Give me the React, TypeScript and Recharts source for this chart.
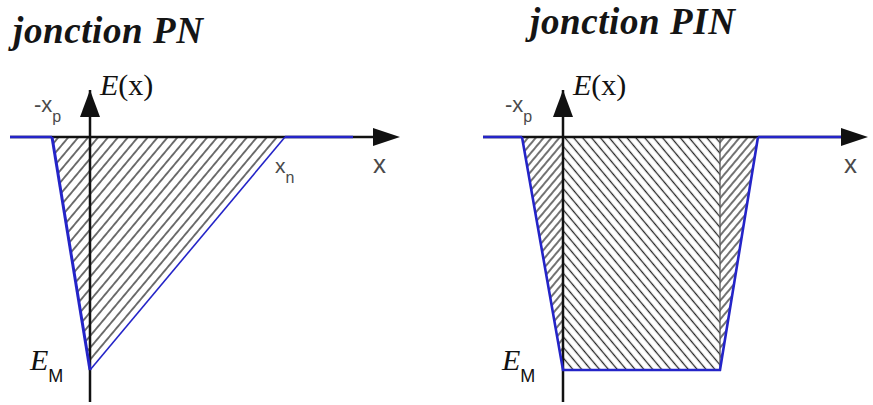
import React from 'react';
import { ComposedChart, Area, Line, XAxis, YAxis, ReferenceLine, ReferenceDot } from 'recharts';

// Field profiles E(x) in display units (x: position, e: field strength, EM = -23.3)
const pnProfile = [
  { x: -3.8, e: 0 },
  { x: 0, e: -23.3 },
  { x: 19.5, e: 0 },
];
const pinProfile = [
  { x: -4.1, e: 0 },
  { x: 0, e: -23.3 },
  { x: 15.7, e: -23.3 },
  { x: 19.5, e: 0 },
];

// Horizontal axis stretches (black line, blue outer parts)
const pnAxis = [{ x: -8, e: 0 }, { x: 29, e: 0 }];
const pnAxisBlueLeft = [{ x: -8, e: 0 }, { x: -3.8, e: 0 }];
const pnAxisBlueRight = [{ x: 19.5, e: 0 }, { x: 26.3, e: 0 }];
const pinAxis = [{ x: -8, e: 0 }, { x: 28.5, e: 0 }];
const pinAxisBlueLeft = [{ x: -8, e: 0 }, { x: -4.1, e: 0 }];
const pinAxisBlueRight = [{ x: 19.5, e: 0 }, { x: 28, e: 0 }];

// Intrinsic-layer boundary
const pinInnerEdge = [{ x: 15.7, e: 0 }, { x: 15.7, e: -23.3 }];

const titles = ['jonction PN', 'jonction PIN'];

const BLUE = '#2424c8';
const INK = '#111';
const GREY = '#4a4a4a';
const SERIF = '"Liberation Serif", "DejaVu Serif", serif';
const SANS = '"Liberation Sans", Arial, sans-serif';

const ArrowRight = (p: any) => (
  <polygon points={`${p.cx},${p.cy} ${p.cx - 27},${p.cy - 9} ${p.cx - 27},${p.cy + 9}`} fill={INK} />
);
const ArrowUp = (p: any) => (
  <polygon points={`${p.cx},${p.cy} ${p.cx - 10},${p.cy + 27} ${p.cx + 10},${p.cy + 27}`} fill={INK} />
);

const fieldLabel = (dx: number, dy: number) => (p: any) => (
  <text x={p.cx + dx} y={p.cy + dy} fill={INK} fontFamily={SERIF} fontSize={30}>
    <tspan fontStyle="italic">E</tspan>
    <tspan>(x)</tspan>
  </text>
);
const axisXLabel = (dx: number, dy: number) => (p: any) => (
  <text x={p.cx + dx} y={p.cy + dy} fill={GREY} fontFamily={SANS} fontSize={26}>x</text>
);
const xpLabel = (dx: number, dy: number) => (p: any) => (
  <text x={p.cx + dx} y={p.cy + dy} fill={GREY} fontFamily={SANS} fontSize={22}>
    -x<tspan fontSize={16} dy={10}>p</tspan>
  </text>
);
const xnLabel = (dx: number, dy: number) => (p: any) => (
  <text x={p.cx + dx} y={p.cy + dy} fill={GREY} fontFamily={SANS} fontSize={21}>
    x<tspan fontSize={16} dy={10}>n</tspan>
  </text>
);
const emLabel = (dx: number, dy: number) => (p: any) => (
  <text x={p.cx + dx} y={p.cy + dy} fill={INK} fontFamily={SERIF} fontSize={30}>
    <tspan fontStyle="italic">E</tspan>
    <tspan fontFamily={SANS} fontSize={18} dy={12}>M</tspan>
  </text>
);

const Hatch = ({ id, gap, angle }: { id: string; gap: number; angle: number }) => (
  <pattern id={id} patternUnits="userSpaceOnUse" width={gap} height={gap} patternTransform={`rotate(${angle})`}>
    <line x1={gap / 2} y1={0} x2={gap / 2} y2={gap} stroke="#262626" strokeWidth={1.3} />
  </pattern>
);

const yAxisDomain: [number, number] = [-26.5, 4.7];

function PnPanel() {
  return (
    <ComposedChart width={436} height={405} margin={{ top: 90, right: 36, bottom: 3, left: 10 }}>
      <defs>
        <Hatch id="pnHatch" gap={7.6} angle={40} />
      </defs>
      <XAxis type="number" dataKey="x" domain={[-8, 31]} hide allowDataOverflow />
      <YAxis type="number" domain={yAxisDomain} hide allowDataOverflow />
      <Area data={pnProfile} dataKey="e" type="linear" baseValue={0} stroke="none" fill="url(#pnHatch)" fillOpacity={1} isAnimationActive={false} dot={false} activeDot={false} />
      <Line data={pnAxis} dataKey="e" type="linear" stroke={INK} strokeWidth={2.5} dot={false} activeDot={false} isAnimationActive={false} />
      <Line data={pnAxisBlueLeft} dataKey="e" type="linear" stroke={BLUE} strokeWidth={2.5} dot={false} activeDot={false} isAnimationActive={false} />
      <Line data={pnAxisBlueRight} dataKey="e" type="linear" stroke={BLUE} strokeWidth={2.5} dot={false} activeDot={false} isAnimationActive={false} />
      <ReferenceLine x={0} stroke={INK} strokeWidth={2.5} />
      <Line data={pnProfile.slice(0, 2)} dataKey="e" type="linear" stroke={BLUE} strokeWidth={3} dot={false} activeDot={false} isAnimationActive={false} />
      <Line data={pnProfile.slice(1, 3)} dataKey="e" type="linear" stroke={BLUE} strokeWidth={1.6} dot={false} activeDot={false} isAnimationActive={false} />
      <ReferenceDot x={31} y={0} r={0} ifOverflow="visible" shape={ArrowRight} />
      <ReferenceDot x={0} y={4.7} r={0} ifOverflow="visible" shape={ArrowUp} />
      <ReferenceDot x={0} y={4.7} r={0} ifOverflow="visible" shape={fieldLabel(10, 5)} />
      <ReferenceDot x={31} y={0} r={0} ifOverflow="visible" shape={axisXLabel(-27, 36)} />
      <ReferenceDot x={-3.8} y={0} r={0} ifOverflow="visible" shape={xpLabel(-18, -25)} />
      <ReferenceDot x={19.5} y={0} r={0} ifOverflow="visible" shape={xnLabel(-10, 36)} />
      <ReferenceDot x={0} y={-23.3} r={0} ifOverflow="visible" shape={emLabel(-60, 0)} />
    </ComposedChart>
  );
}

function PinPanel() {
  return (
    <ComposedChart width={437} height={405} margin={{ top: 90, right: 5, bottom: 3, left: 47 }}>
      <defs>
        <Hatch id="pinSideHatch" gap={6} angle={40} />
        <Hatch id="pinMidHatch" gap={6.8} angle={-40} />
      </defs>
      <XAxis type="number" dataKey="x" domain={[-8, 30.5]} hide allowDataOverflow />
      <YAxis type="number" domain={yAxisDomain} hide allowDataOverflow />
      <Area data={pinProfile.slice(0, 2)} dataKey="e" type="linear" baseValue={0} stroke="none" fill="url(#pinSideHatch)" fillOpacity={1} isAnimationActive={false} dot={false} activeDot={false} />
      <Area data={pinProfile.slice(1, 3)} dataKey="e" type="linear" baseValue={0} stroke="none" fill="url(#pinMidHatch)" fillOpacity={1} isAnimationActive={false} dot={false} activeDot={false} />
      <Area data={pinProfile.slice(2, 4)} dataKey="e" type="linear" baseValue={0} stroke="none" fill="url(#pinSideHatch)" fillOpacity={1} isAnimationActive={false} dot={false} activeDot={false} />
      <Line data={pinInnerEdge} dataKey="e" type="linear" stroke="#555" strokeWidth={1.3} dot={false} activeDot={false} isAnimationActive={false} />
      <Line data={pinAxis} dataKey="e" type="linear" stroke={INK} strokeWidth={2.5} dot={false} activeDot={false} isAnimationActive={false} />
      <Line data={pinAxisBlueLeft} dataKey="e" type="linear" stroke={BLUE} strokeWidth={2.5} dot={false} activeDot={false} isAnimationActive={false} />
      <Line data={pinAxisBlueRight} dataKey="e" type="linear" stroke={BLUE} strokeWidth={2.5} dot={false} activeDot={false} isAnimationActive={false} />
      <ReferenceLine x={0} stroke={INK} strokeWidth={2.5} />
      <Line data={pinProfile} dataKey="e" type="linear" stroke={BLUE} strokeWidth={2.6} dot={false} activeDot={false} isAnimationActive={false} />
      <ReferenceDot x={30.5} y={0} r={0} ifOverflow="visible" shape={ArrowRight} />
      <ReferenceDot x={0} y={4.7} r={0} ifOverflow="visible" shape={ArrowUp} />
      <ReferenceDot x={0} y={4.7} r={0} ifOverflow="visible" shape={fieldLabel(10, 5)} />
      <ReferenceDot x={30.5} y={0} r={0} ifOverflow="visible" shape={axisXLabel(-24, 36)} />
      <ReferenceDot x={-4.1} y={0} r={0} ifOverflow="visible" shape={xpLabel(-17, -25)} />
      <ReferenceDot x={0} y={-23.3} r={0} ifOverflow="visible" shape={emLabel(-61, 0)} />
    </ComposedChart>
  );
}

const titleStyle: React.CSSProperties = {
  position: 'absolute',
  fontFamily: SERIF,
  fontWeight: 'bold',
  fontStyle: 'italic',
  fontSize: 37,
  letterSpacing: 0.6,
  lineHeight: 1,
  color: '#151515',
  whiteSpace: 'nowrap',
};

export default function App() {
  return (
    <div style={{ position: 'absolute', left: 0, top: 0, width: 873, height: 405, background: '#fff', overflow: 'hidden' }}>
      <div style={{ position: 'absolute', left: 0, top: 0 }}>
        <PnPanel />
      </div>
      <div style={{ position: 'absolute', left: 436, top: 0 }}>
        <PinPanel />
      </div>
      <div style={{ ...titleStyle, left: 13, top: 12 }}>{titles[0]}</div>
      <div style={{ ...titleStyle, left: 530, top: 3 }}>{titles[1]}</div>
    </div>
  );
}
